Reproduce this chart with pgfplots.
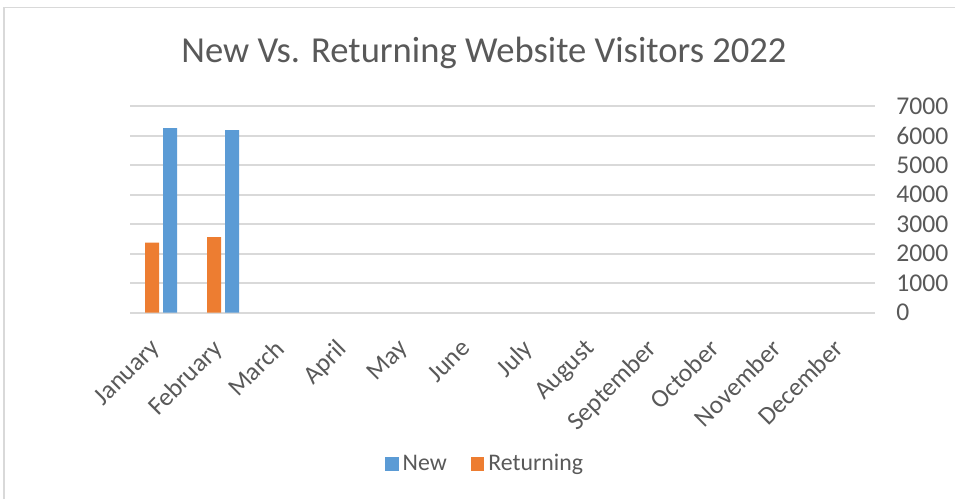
\documentclass[border=0pt]{standalone}
\usepackage{pgfplots}
\pgfplotsset{compat=1.18}
\usepackage{fontspec}
\setmainfont{Carlito}
\definecolor{newblue}{HTML}{5B9BD5}
\definecolor{retorange}{HTML}{ED7D31}
\definecolor{gridgray}{HTML}{D9D9D9}
\definecolor{txtgray}{HTML}{595959}
\definecolor{framegray}{HTML}{D9D9D9}
\begin{document}
\begin{tikzpicture}
\path[use as bounding box] (0pt,0pt) rectangle (477.5pt,249.5pt);
\draw[framegray, line width=0.8pt] (2pt,0pt) -- (2pt,245.75pt) -- (477.5pt,245.75pt);
\node[text=txtgray, font=\fontsize{18.3}{21}\selectfont] at (242pt,223pt) {New Vs. Returning Website Visitors 2022};
\begin{axis}[
  at={(65pt,93.15pt)}, anchor=south west,
  scale only axis, width=372.5pt, height=103.35pt,
  ybar, bar width=7pt,
  xmin=-0.5, xmax=11.5, ymin=0, ymax=7000,
  ytick={0,1000,...,7000},
  xtick={0,...,11},
  xticklabels={January,February,March,April,May,June,July,August,September,October,November,December},
  x tick label style={rotate=45, anchor=north east, inner sep=0pt, yshift=-4.5pt, xshift=-13pt, text=txtgray, font=\fontsize{12.8}{15}\selectfont},
  yticklabel pos=right,
  y tick label style={anchor=west, inner sep=0pt, xshift=10.5pt, text=txtgray, font=\fontsize{12.8}{15}\selectfont},
  /pgf/number format/1000 sep={},
  /pgf/number format/assume math mode=true,
  axis line style={draw=none},
  major tick length=0pt,
  ymajorgrids, grid style={gridgray, line width=1pt},
  legend style={at={(0.478,-0.732)}, anchor=center, draw=none, legend columns=2, font=\fontsize{11.9}{14}\selectfont, text=txtgray, /tikz/every even column/.append style={column sep=10pt}},
  legend image code/.code={\fill[#1] (0pt,-3.4pt) rectangle (6.8pt,3.4pt);},
]
\addplot[fill=newblue, draw=none, bar shift=4.5pt] coordinates {(0,6250) (1,6180)};
\addlegendentry{New}
\addplot[fill=retorange, draw=none, bar shift=-4.5pt] coordinates {(0,2370) (1,2560)};
\addlegendentry{Returning}
\end{axis}
\end{tikzpicture}
\end{document}
